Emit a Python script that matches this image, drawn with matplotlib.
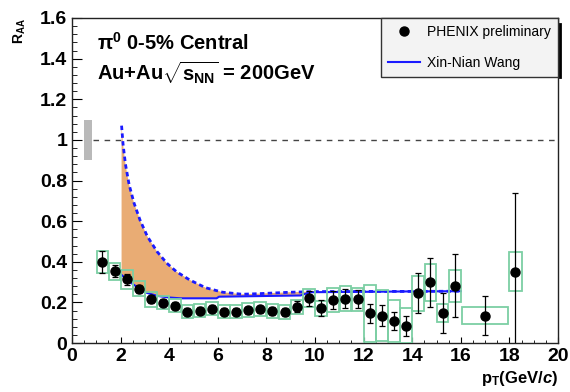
import matplotlib
matplotlib.use('Agg')
import matplotlib.pyplot as plt
from matplotlib.patches import Rectangle
from matplotlib.lines import Line2D
from matplotlib.ticker import MultipleLocator, FormatStrFormatter
import numpy as np

plt.rcParams['font.family'] = ['Liberation Sans', 'DejaVu Sans']
plt.rcParams['mathtext.fontset'] = 'custom'
plt.rcParams['mathtext.rm'] = 'Liberation Sans:bold'
plt.rcParams['mathtext.it'] = 'Liberation Sans:bold:italic'
plt.rcParams['mathtext.bf'] = 'Liberation Sans:bold'

#%% data: pi0 R_AA, 0-5% central Au+Au
pt = np.array([1.25, 1.75, 2.25, 2.75, 3.25, 3.75, 4.25, 4.75, 5.25, 5.75,
               6.25, 6.75, 7.25, 7.75, 8.25, 8.75, 9.25, 9.75, 10.25, 10.75,
               11.25, 11.75, 12.25, 12.75, 13.25, 13.75, 14.25, 14.75, 15.25, 15.75,
               17.0, 18.25])
pt_halfwidth = np.array([0.24]*30 + [0.95, 0.26])
raa = np.array([0.398, 0.353, 0.313, 0.266, 0.215, 0.198, 0.184, 0.154, 0.159, 0.169,
                0.154, 0.154, 0.161, 0.166, 0.159, 0.151, 0.179, 0.220, 0.171, 0.212,
                0.219, 0.215, 0.146, 0.135, 0.109, 0.085, 0.245, 0.298, 0.146, 0.282,
                0.135, 0.351])
raa_stat = np.array([0.053, 0.030, 0.025, 0.020, 0.018, 0.017, 0.016, 0.016, 0.016, 0.016,
                     0.017, 0.017, 0.018, 0.018, 0.019, 0.020, 0.028, 0.038, 0.039, 0.045,
                     0.049, 0.045, 0.047, 0.053, 0.046, 0.049, 0.098, 0.120, 0.098, 0.155,
                     0.094, 0.386])
raa_sys = np.array([0.053, 0.041, 0.045, 0.037, 0.037, 0.033, 0.032, 0.033, 0.033, 0.033,
                    0.033, 0.033, 0.035, 0.035, 0.035, 0.035, 0.035, 0.045, 0.038, 0.057,
                    0.060, 0.055, 0.140, 0.125, 0.105, 0.085, 0.087, 0.090, 0.044, 0.078,
                    0.042, 0.097])

# Xin-Nian Wang band, upper (dashed) and lower (solid) edges
wang_up_pt = [2.04, 2.1, 2.2, 2.35, 2.55, 2.8, 3.1, 3.5, 3.9, 4.3,
              4.85, 5.5, 6.2, 7.0, 7.7, 9.0, 10.0, 12.0, 14.0, 16.0]
wang_up = [1.07, 0.98, 0.88, 0.78, 0.69, 0.605, 0.525, 0.45, 0.393, 0.351,
           0.31, 0.272, 0.25, 0.24, 0.243, 0.25, 0.253, 0.254, 0.254, 0.255]
wang_lo_pt = [2.04, 2.5, 3.0, 3.5, 4.0, 4.45, 5.95, 6.05, 9.4, 9.8, 12.0, 14.0, 16.0]
wang_lo = [0.335, 0.29, 0.25, 0.232, 0.224, 0.22, 0.22, 0.228, 0.234, 0.25, 0.252, 0.254, 0.255]

norm_err = 0.1

#%% fig
fig = plt.figure(figsize=(5.7, 3.92), dpi=100)
ax = fig.add_axes([72/570, 1-343/392, 486/570, 325/392])

# theory band
ax.fill(wang_up_pt + wang_lo_pt[::-1], wang_up + wang_lo[::-1],
        facecolor='#e9ac74', edgecolor='none', zorder=1)
ax.plot(wang_up_pt, wang_up, c='#1a1aff', lw=2, ls=(0, (1.6, 1.2)), zorder=2)
ax.plot(wang_lo_pt, wang_lo, c='#1a1aff', lw=1.5, zorder=2)

# normalisation uncertainty and unity line
ax.add_patch(Rectangle((0.5, 1-norm_err), 0.33, 2*norm_err,
                       facecolor='#b9b9b9', edgecolor='none', zorder=1))
ax.plot([0.85, 20], [1, 1], c='#444444', lw=1, ls=(0, (4, 4)), zorder=1)

# systematic boxes
for x, y, hw, s in zip(pt, raa, pt_halfwidth, raa_sys):
    ax.add_patch(Rectangle((x-hw, y-s), 2*hw, 2*s, facecolor='none',
                           edgecolor='#7ccfa4', lw=1.3, zorder=3))

ax.errorbar(pt, raa, yerr=raa_stat, fmt='none', ecolor='black', elinewidth=0.9,
            capsize=2.5, capthick=0.9, zorder=4)
ax.plot(pt, raa, 'o', c='black', ms=6.5, zorder=5)

ax.set_xlim(0, 20)
ax.set_ylim(0, 1.6)
ax.xaxis.set_major_locator(MultipleLocator(2))
ax.xaxis.set_minor_locator(MultipleLocator(0.5))
ax.yaxis.set_major_locator(MultipleLocator(0.2))
ax.yaxis.set_minor_locator(MultipleLocator(0.04))
ax.yaxis.set_major_formatter(FormatStrFormatter('%g'))
ax.tick_params(which='both', direction='in', top=False, right=False)
ax.tick_params(axis='x', which='major', length=4.5, pad=3.5)
ax.tick_params(axis='x', which='minor', length=2.3)
ax.tick_params(axis='y', which='major', length=7, pad=3.5)
ax.tick_params(axis='y', which='minor', length=3.6)
for lab in ax.get_xticklabels() + ax.get_yticklabels():
    lab.set_fontsize(14)
    lab.set_fontweight('bold')
for sp in ax.spines.values():
    sp.set_linewidth(1)
    sp.set_color('#222222')

ax.text(0.051, 0.9015, r'$\mathrm{\pi^0}$ 0-5% Central', transform=ax.transAxes,
        fontsize=14.5, fontweight='bold', va='baseline')
ax.text(0.051, 0.809, r'Au+Au$\sqrt{\mathrm{s_{NN}}}$ = 200GeV', transform=ax.transAxes,
        fontsize=14.5, fontweight='bold', va='baseline')

fig.text(20/570, 1-18/392, r'$\mathrm{R_{AA}}$', rotation=90, ha='center', va='top',
         fontsize=10)
fig.text(558/570, 1-369/392, r'$\mathrm{p_T(GeV/}\mathit{c}\mathrm{)}$', ha='right',
         va='top', fontsize=12)

# legend
h1, = ax.plot([], [], 'o', c='black', ms=6.5)
h2, = ax.plot([], [], c='#1a1aff', lw=1.5)
leg = ax.legend([h1, h2], ['PHENIX preliminary', 'Xin-Nian Wang'], loc='upper right',
                bbox_to_anchor=(1, 1), borderaxespad=0, fontsize=10, fancybox=False,
                framealpha=1, facecolor='#f3f3f3', edgecolor='#333333',
                handlelength=2.3, handletextpad=0.5, labelspacing=1.2, borderpad=0.5)
leg.get_frame().set_linewidth(1)
leg.set_zorder(6)

# legend shadow on the right side
fig.canvas.draw()
bb = leg.get_window_extent().transformed(fig.transFigure.inverted())
fig.add_artist(Line2D([bb.x1 + 1.5/570, bb.x1 + 1.5/570], [bb.y0, bb.y1 - 6/392],
                      transform=fig.transFigure, c='black', lw=2))

plt.savefig('out.png', dpi=100)
